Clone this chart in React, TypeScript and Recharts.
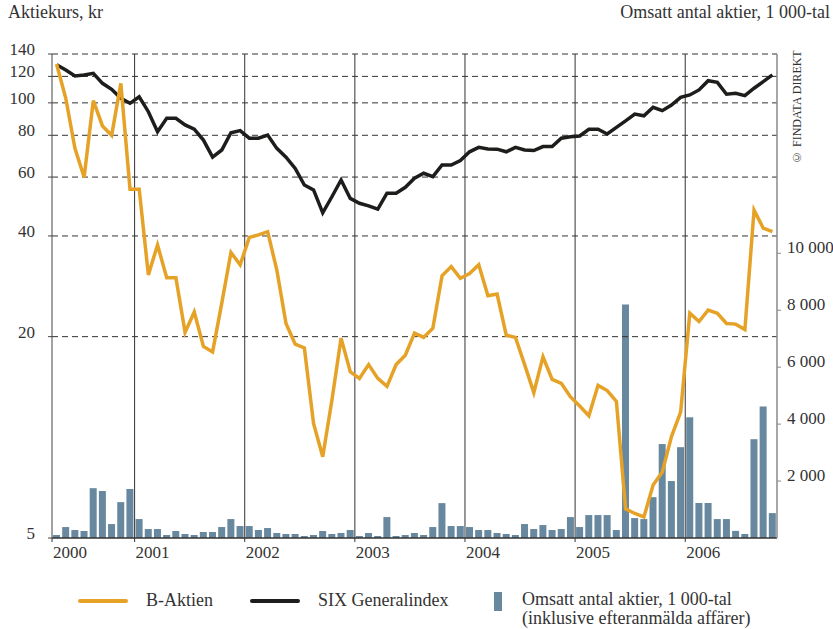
import { ComposedChart, Line, Bar, XAxis, YAxis, ReferenceLine } from 'recharts';

// months run from april 2000 to october 2006
const START_YEAR = 2000;
const START_MONTH = 4;

const bAktien = [
  // 2000 (apr-dec)
  130.7, 103.2, 73.1, 59.9, 101.5, 85.3, 80, 114.4, 55.2,
  // 2001
  55.2, 30.6, 37.6, 30.0, 30.0, 20.6, 23.7, 18.7, 18.0, 25.2, 35.7, 32.8,
  // 2002
  39.6, 40.3, 41.2, 31.6, 21.9, 19.0, 18.5, 11.0, 8.75, 12.9, 19.8, 15.7,
  // 2003
  15.0, 16.5, 15.0, 14.2, 16.5, 17.6, 20.5, 19.9, 21.2, 30.4, 32.4, 29.9,
  // 2004
  30.9, 32.8, 26.5, 26.8, 20.2, 19.9, 16.5, 13.6, 17.4, 14.9, 14.5, 13.2,
  // 2005
  12.4, 11.6, 14.3, 13.8, 12.8, 6.11, 5.92, 5.78, 7.2, 7.88, 10.05, 11.9,
  // 2006 (jan-oct)
  23.5, 22.2, 24.0, 23.5, 21.9, 21.8, 21.0, 47.8, 42.2, 41.2,
];

const sixGeneral = [
  130, 125.4, 120.3, 121.2, 122.6, 114.4, 109.8, 103.2, 99.7,
  104.3, 94.1, 82.0, 89.9, 89.9, 85.9, 83.5, 77.4, 68.8, 72.3, 81.4, 82.6,
  78.4, 78.4, 80.1, 73.1, 68.8, 63.7, 56.8, 54.9, 46.9, 52.4, 58.8, 51.8,
  50.1, 49.2, 48.1, 53.7, 53.7, 55.9, 59.5, 61.6, 60.2, 65.2, 65.2, 67.2,
  71.4, 73.6, 72.8, 72.7, 71.4, 73.6, 72.3, 72.0, 74.0, 74.0, 78.4, 79.2,
  79.6, 83.4, 83.4, 80.7, 84.5, 88.3, 92.6, 91.5, 97.0, 94.8, 98.5, 103.9,
  105.6, 109.3, 116.5, 115.2, 106.1, 106.8, 105.1, 110.6, 115.7, 121.2,
];

// omsatt antal aktier, 1 000-tal
const volume = [
  105, 385, 280, 245, 1750, 1650, 490, 1260, 1720,
  665, 315, 315, 105, 245, 140, 105, 210, 210, 385, 665, 420,
  420, 280, 350, 175, 140, 140, 70, 105, 245, 140, 175, 280,
  70, 175, 70, 735, 70, 105, 175, 105, 385, 1225, 420, 420,
  385, 280, 280, 175, 140, 105, 490, 315, 455, 280, 315, 735,
  385, 805, 805, 805, 280, 8200, 700, 665, 1435, 3300, 2000, 3190,
  4240, 1230, 1230, 665, 665, 250, 140, 3470, 4620, 875,
];

const yearLabels = ['2000', '2001', '2002', '2003', '2004', '2005', '2006'];
const yearTicks = [0, 9, 21, 33, 45, 57, 69];
const priceTicks = [5, 20, 40, 60, 80, 100, 120, 140];
const gridValues = [20, 40, 60, 80, 100, 120, 140];
const volumeTicks = [2000, 4000, 6000, 8000, 10000];

const data = bAktien.map((v, i) => {
  const m = START_MONTH - 1 + i;
  return {
    x: i + 0.5,
    month: `${START_YEAR + Math.floor(m / 12)}-${(m % 12) + 1}`,
    bAktien: v,
    six: sixGeneral[i],
    volume: volume[i],
  };
});

const FONT = '"Liberation Serif", "DejaVu Serif", serif';
const TEXT = '#333';

const YearTick = ({ x, y, payload }: any) => {
  const idx = yearTicks.indexOf(payload.value);
  return (
    <text x={x + 1} y={y} dy="0.8em" textAnchor="start" fontSize={17} fontFamily={FONT} fill={TEXT}>
      {yearLabels[idx]}
    </text>
  );
};

const PriceTick = ({ x, y, payload }: any) => (
  <text x={x} y={y} dy={1} textAnchor="end" fontSize={17} fontFamily={FONT} fill={TEXT}>
    {payload.value}
  </text>
);

const VolumeTick = ({ x, y, payload }: any) => (
  <text x={x} y={y} dy={0} textAnchor="start" fontSize={17} fontFamily={FONT} fill={TEXT}>
    {String(payload.value).replace(/\B(?=(\d{3})+(?!\d))/g, ' ')}
  </text>
);

const labelStyle = { position: 'absolute' as const, fontFamily: FONT, fontSize: 18, color: TEXT, lineHeight: '20px', whiteSpace: 'nowrap' as const };

const App = () => {
  return (
    <div style={{ position: 'absolute', left: 0, top: 0, width: 833, height: 629, background: '#fff' }}>
      <div style={{ ...labelStyle, left: 8, top: 2 }}>Aktiekurs, kr</div>
      <div style={{ ...labelStyle, right: 3, top: 2 }}>Omsatt antal aktier, 1 000-tal</div>
      <div
        style={{
          ...labelStyle,
          left: 790,
          top: 52,
          height: 112,
          fontSize: 12,
          lineHeight: '14px',
          writingMode: 'vertical-rl',
          transform: 'rotate(180deg)',
        }}
      >
        © FINDATA DIREKT
      </div>

      <ComposedChart width={833} height={629} data={data} margin={{ top: 54, right: 0, bottom: 61, left: 0 }}>
        <XAxis
          dataKey="x"
          type="number"
          domain={[0, 79]}
          ticks={yearTicks}
          interval={0}
          tickSize={4}
          tick={<YearTick />}
          axisLine={{ stroke: '#333', strokeWidth: 1.5 }}
          tickLine={{ stroke: '#333' }}
          height={30}
        />
        <YAxis
          yAxisId="left"
          type="number"
          scale="log"
          domain={[5, 140]}
          ticks={priceTicks}
          interval={0}
          allowDataOverflow
          width={52}
          tickSize={4}
          tickMargin={13}
          tick={<PriceTick />}
          axisLine={{ stroke: '#444' }}
          tickLine={{ stroke: '#444' }}
        />
        <YAxis
          yAxisId="right"
          orientation="right"
          type="number"
          domain={[0, 17000]}
          ticks={volumeTicks}
          interval={0}
          width={56}
          tickSize={4}
          tickMargin={6}
          tick={<VolumeTick />}
          axisLine={{ stroke: '#888', strokeWidth: 1.5 }}
          tickLine={{ stroke: '#888' }}
        />

        {gridValues.map((v) => (
          <ReferenceLine key={v} yAxisId="left" y={v} stroke="#333" strokeDasharray="6 4" />
        ))}
        {yearTicks.slice(1).map((t) => (
          <ReferenceLine key={t} yAxisId="left" x={t} stroke="#333" />
        ))}

        <Bar yAxisId="right" dataKey="volume" fill="#67889e" barSize={7} isAnimationActive={false} />
        <Line
          yAxisId="left"
          dataKey="six"
          type="linear"
          stroke="#1d1d1b"
          strokeWidth={3.5}
          dot={false}
          isAnimationActive={false}
        />
        <Line
          yAxisId="left"
          dataKey="bAktien"
          type="linear"
          stroke="#e5a227"
          strokeWidth={3.5}
          dot={false}
          isAnimationActive={false}
        />
      </ComposedChart>

      {/* legend */}
      <div style={{ position: 'absolute', left: 78, top: 599, width: 50, height: 4, background: '#e5a227', borderRadius: 2 }} />
      <div style={{ ...labelStyle, left: 146, top: 590 }}>B-Aktien</div>
      <div style={{ position: 'absolute', left: 250, top: 599, width: 50, height: 4, background: '#1d1d1b', borderRadius: 2 }} />
      <div style={{ ...labelStyle, left: 318, top: 590 }}>SIX Generalindex</div>
      <div style={{ position: 'absolute', left: 494, top: 592, width: 8, height: 19, background: '#67889e' }} />
      <div style={{ ...labelStyle, left: 522, top: 590, lineHeight: '19px' }}>
        Omsatt antal aktier, 1 000-tal
        <br />
        (inklusive efteranmälda affärer)
      </div>
    </div>
  );
};

export default App;
